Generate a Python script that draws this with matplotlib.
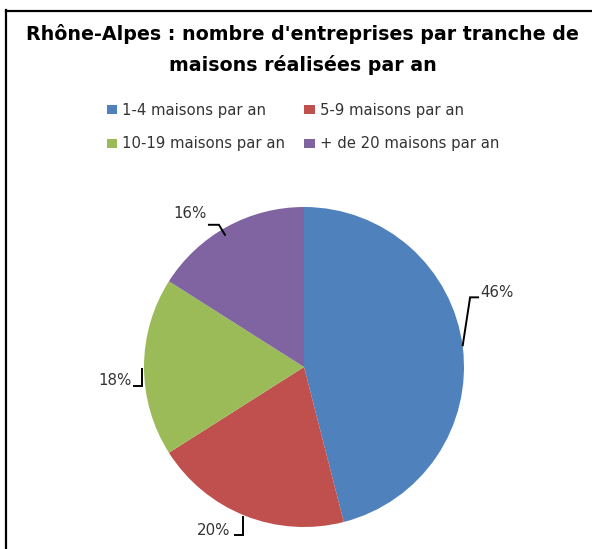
import numpy as np
import matplotlib.pyplot as plt
from matplotlib.lines import Line2D
from matplotlib.patches import Patch

categories = ['1-4 maisons par an', '5-9 maisons par an',
              '10-19 maisons par an', '+ de 20 maisons par an']
shares = [46, 20, 18, 16]
pct_labels = ['46%', '20%', '18%', '16%']
colors = ['#4F81BD', '#C0504D', '#9BBB59', '#8064A2']

W, H = 592, 549
fig = plt.figure(figsize=(W / 100, H / 100), dpi=100)

# pie axes: centre (304, 367) px, radius 160 px
cx, cy, r = 304, 367, 160
ax = fig.add_axes([(cx - r) / W, (H - cy - r) / H, 2 * r / W, 2 * r / H])
wedges, _ = ax.pie(shares, colors=colors, startangle=90, counterclock=False,
                   radius=1, wedgeprops=dict(linewidth=0))
ax.set_xlim(-1, 1)
ax.set_ylim(-1, 1)
ax.set_axis_off()

# leader line shape relative to the wedge mid point on the rim (radius units):
# start, elbow, end of line, text anchor, text alignment
leaders = {
    '46%': [(0.0, 0.01), (0.046, 0.31), (0.096, 0.31), (0.108, 0.34), 'left'],
    '20%': [(-0.0125, -0.0075), (-0.0125, -0.12), (-0.0625, -0.12), (-0.09, -0.09), 'right'],
    '18%': [(-0.012, -0.01), (-0.012, -0.119), (-0.06, -0.119), (-0.079, -0.084), 'right'],
    '16%': [(-0.0125, -0.05), (-0.05, 0.0125), (-0.1125, 0.0125), (-0.125, 0.08), 'right'],
}
for w, lab in zip(wedges, pct_labels):
    mid = np.deg2rad((w.theta1 + w.theta2) / 2)
    px, py = np.cos(mid), np.sin(mid)
    s, e, t, a, side = leaders[lab]
    ax.plot([px + s[0], px + e[0], px + t[0]], [py + s[1], py + e[1], py + t[1]],
            color='black', lw=1.4, clip_on=False, solid_joinstyle='miter')
    ax.text(px + a[0], py + a[1], lab, ha=side, va='center',
            fontsize=10.8, color='#333333', family='DejaVu Sans')

fig.text(302.5 / W, 1 - 34 / H, "Rhône-Alpes : nombre d'entreprises par tranche de",
         ha='center', va='center', fontsize=13.7, fontweight='bold',
         family='DejaVu Sans', color='black')
fig.text(302.5 / W, 1 - 65 / H, "maisons réalisées par an",
         ha='center', va='center', fontsize=13.7, fontweight='bold',
         family='DejaVu Sans', color='black')

# legend filled row by row like the original
order = [0, 2, 1, 3]
handles = [Patch(facecolor=colors[i], edgecolor='none') for i in order]
fig.legend(handles, [categories[i] for i in order], ncol=2, loc='center',
           bbox_to_anchor=(303 / W, 1 - 127 / H), frameon=False,
           prop=dict(family='DejaVu Sans', size=10.7), labelcolor='#333333',
           handlelength=0.7, handleheight=0.55, handletextpad=0.35,
           columnspacing=1.3, labelspacing=1.25)

# chart frame (left and top edges visible)
fig.add_artist(Line2D([6 / W, 6 / W], [0, 1 - 10 / H], color='black', lw=1.6))
fig.add_artist(Line2D([6 / W, 1], [1 - 11 / H, 1 - 11 / H], color='black', lw=1.6))

fig.savefig('out.png', dpi=100)
